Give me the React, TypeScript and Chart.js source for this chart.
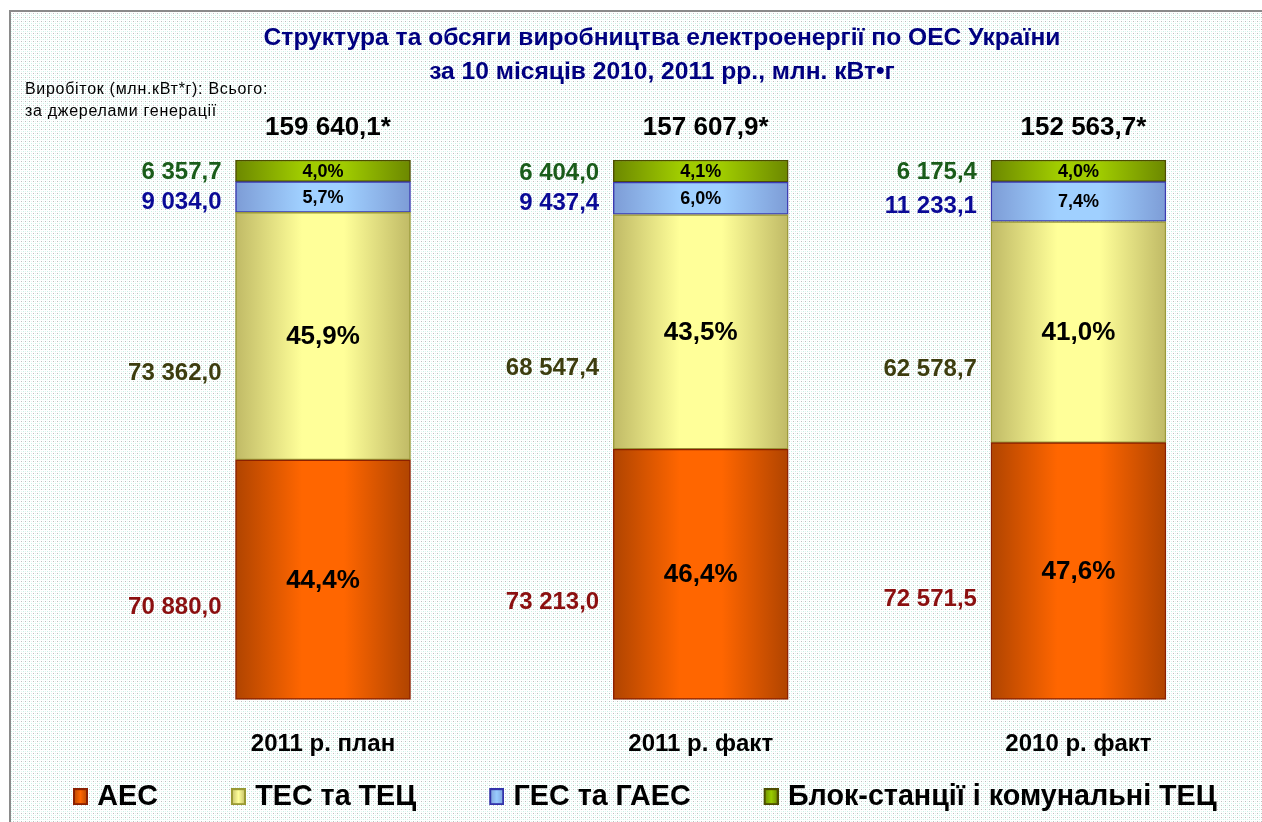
import { useEffect, useRef } from 'react';
import { Chart, registerables } from 'chart.js';

Chart.register(...registerables);

const categories = ['2011 р. план', '2011 р. факт', '2010 р. факт'];
const totalLabels = ['159 640,1*', '157 607,9*', '152 563,7*'];
const seriesNames = ['АЕС', 'ТЕС та ТЕЦ', 'ГЕС та ГАЕС', 'Блок-станції і комунальні ТЕЦ'];

// shares, %
const aesShare = [44.4, 46.4, 47.6];
const tesShare = [45.9, 43.5, 41.0];
const gesShare = [5.7, 6.0, 7.4];
const blockShare = [4.0, 4.1, 4.0];

// output, mln kWh
const aesOutput = [70880.0, 73213.0, 72571.5];
const tesOutput = [73362.0, 68547.4, 62578.7];
const gesOutput = [9034.0, 9437.4, 11233.1];
const blockOutput = [6357.7, 6404.0, 6175.4];

const titleLines = [
  'Структура та обсяги виробництва електроенергії по ОЕС України',
  'за 10 місяців 2010, 2011 рр., млн. кВт•г',
];
const noteLines = ['Виробіток (млн.кВт*г): Всього:', 'за джерелами генерації'];

const shares = [aesShare, tesShare, gesShare, blockShare];
const outputs = [aesOutput, tesOutput, gesOutput, blockOutput];

const FONT = "'Liberation Sans', Arial, sans-serif";
const BAR_W = 175;

const styles = [
  { edge: '#b04400', mid: '#ff6600', border: '#8b2000', text: '#8b1010', pct: 26, off: 28, box: '#ff6600', boxBorder: '#8b2000' },
  { edge: '#c0ba66', mid: '#ffff99', border: '#9a9a3a', text: '#3d3d0f', pct: 26, off: 37, box: '#ffff99', boxBorder: '#999933' },
  { edge: '#7d9cd6', mid: '#a0d0ff', border: '#3a3ab0', text: '#0a0a96', pct: 18, off: 5, box: '#99ccff', boxBorder: '#3333aa' },
  { edge: '#6c8800', mid: '#a0cc00', border: '#4d4d00', text: '#1a5c1a', pct: 18, off: 2, box: '#99cc00', boxBorder: '#4d4d00' },
];

function fmtValue(v: number): string {
  const [i, d] = v.toFixed(1).split('.');
  return i.replace(/\B(?=(\d{3})+(?!\d))/g, ' ') + ',' + d;
}
function fmtPct(v: number): string {
  return v.toFixed(1).replace('.', ',') + '%';
}

function gradientFor(ctx: any, d: number) {
  const st = styles[d];
  const chart = ctx.chart;
  const xs = chart.scales && chart.scales.x;
  if (ctx.type !== 'data' || !xs || !chart.chartArea) return st.mid;
  const raw = ctx.raw;
  const cx = xs.getPixelForValue(raw ? raw.x : ctx.dataIndex);
  const g = chart.ctx.createLinearGradient(cx - BAR_W / 2, 0, cx + BAR_W / 2, 0);
  g.addColorStop(0, st.edge);
  g.addColorStop(0.38, st.mid);
  g.addColorStop(0.62, st.mid);
  g.addColorStop(1, st.edge);
  return g;
}

function makeLegendIcon(d: number): HTMLCanvasElement {
  const c = document.createElement('canvas');
  c.width = 82;
  c.height = 17;
  const g = c.getContext('2d')!;
  const st = styles[d];
  const grad = g.createLinearGradient(67, 0, 82, 0);
  grad.addColorStop(0, st.edge);
  grad.addColorStop(0.5, st.box);
  grad.addColorStop(1, st.edge);
  g.fillStyle = grad;
  g.fillRect(67, 0, 15, 17);
  g.strokeStyle = st.boxBorder;
  g.lineWidth = 2;
  g.strokeRect(68, 1, 13, 15);
  return c;
}

function makePattern(ctx: CanvasRenderingContext2D) {
  const c = document.createElement('canvas');
  c.width = 4;
  c.height = 4;
  const g = c.getContext('2d')!;
  g.fillStyle = '#ffffff';
  g.fillRect(0, 0, 4, 4);
  g.fillStyle = '#bfbfbf';
  g.fillRect(1, 1, 1, 1);
  g.fillStyle = '#c8f2e6';
  g.fillRect(3, 3, 1, 1);
  g.fillStyle = '#e2f8f1';
  g.fillRect(3, 1, 1, 1);
  g.fillRect(1, 3, 1, 1);
  return ctx.createPattern(c, 'repeat');
}

const backgroundPlugin = {
  id: 'bgPattern',
  beforeDraw(chart: any) {
    const c = chart.ctx as CanvasRenderingContext2D;
    const w = chart.width;
    const h = chart.height;
    c.save();
    c.fillStyle = '#ffffff';
    c.fillRect(0, 0, w, h);
    const p = makePattern(c);
    if (p) {
      c.fillStyle = p;
      c.fillRect(10, 11, w, h);
    }
    c.strokeStyle = '#8a8a8a';
    c.lineWidth = 2;
    c.beginPath();
    c.moveTo(10, h);
    c.lineTo(10, 11);
    c.lineTo(w, 11);
    c.stroke();
    c.restore();
  },
};

const labelsPlugin = {
  id: 'barLabels',
  afterDatasetsDraw(chart: any) {
    const c = chart.ctx as CanvasRenderingContext2D;
    c.save();
    c.textBaseline = 'middle';
    shares.forEach((_, d) => {
      const meta = chart.getDatasetMeta(d);
      const st = styles[d];
      meta.data.forEach((bar: any, i: number) => {
        const { x, y, base, width } = bar.getProps(['x', 'y', 'base', 'width'], true);
        const cy = (y + base) / 2;
        c.fillStyle = '#000000';
        c.textAlign = 'center';
        c.font = `bold ${st.pct}px ${FONT}`;
        c.fillText(fmtPct(shares[d][i]), x, cy + 1);
        c.fillStyle = st.text;
        c.textAlign = 'right';
        c.font = `bold 24px ${FONT}`;
        c.fillText(fmtValue(outputs[d][i]), x - width / 2 - 14, cy + st.off);
      });
    });
    const topMeta = chart.getDatasetMeta(shares.length - 1);
    topMeta.data.forEach((bar: any, i: number) => {
      const { x, y } = bar.getProps(['x', 'y'], true);
      c.fillStyle = '#000000';
      c.textAlign = 'center';
      c.font = `bold 26px ${FONT}`;
      c.fillText(totalLabels[i], x + 5, y - 32);
    });
    c.textAlign = 'left';
    c.fillStyle = '#000000';
    c.font = `16px ${FONT}`;
    (c as any).letterSpacing = '0.7px';
    c.fillText(noteLines[0], 25, 90);
    c.fillText(noteLines[1], 25, 112);
    c.restore();
  },
};

export default function App() {
  const ref = useRef<HTMLCanvasElement | null>(null);

  useEffect(() => {
    if (!ref.current) return;
    const icons = shares.map((_, d) => makeLegendIcon(d));
    const chart = new Chart(ref.current, {
      type: 'bar',
      data: {
        datasets: shares.map((arr, d) => ({
          label: seriesNames[d],
          data: arr.map((v, i) => ({ x: i, y: v })),
          backgroundColor: (ctx: any) => gradientFor(ctx, d),
          borderColor: styles[d].border,
          borderWidth: 1.5,
          borderSkipped: false,
          barThickness: BAR_W,
        })),
      } as any,
      options: {
        responsive: false,
        animation: false,
        events: [],
        layout: { padding: { top: 0, left: 0, right: 0, bottom: 1 } },
        scales: {
          x: {
            type: 'linear',
            stacked: true,
            offset: false,
            min: -0.691,
            max: 2.486,
            grid: { display: false, drawTicks: false, offset: false },
            border: { display: false },
            afterBuildTicks: (s: any) => {
              s.ticks = categories.map((_, i) => ({ value: i }));
            },
            ticks: {
              autoSkip: false,
              maxRotation: 0,
              padding: 9,
              color: '#000000',
              font: { family: FONT, size: 24, weight: 'bold', lineHeight: 1.5 },
              callback: (v: any) => categories[v] ?? '',
            },
          },
          y: {
            stacked: true,
            min: -3.333,
            max: 100,
            grid: { display: false, drawTicks: false },
            border: { display: false },
            ticks: { display: false },
            afterFit: (s: any) => {
              s.width = 62;
            },
          },
        },
        plugins: {
          title: {
            display: true,
            fullSize: false,
            text: titleLines,
            color: '#000080',
            font: { family: FONT, size: 24.6, weight: 'bold', lineHeight: 34 / 24.6 },
            padding: { top: 21, bottom: 71 },
          },
          legend: {
            position: 'bottom',
            align: 'start',
            labels: {
              usePointStyle: true,
              pointStyleWidth: 72,
              padding: 11,
              color: '#000000',
              font: { family: FONT, size: 28.7, weight: 'bold' },
              generateLabels: (ch: any) =>
                (Chart.defaults.plugins.legend.labels.generateLabels as any)(ch).map((l: any) => ({
                  ...l,
                  pointStyle: icons[l.datasetIndex],
                })),
            },
          },
          tooltip: { enabled: false },
        },
      } as any,
      plugins: [backgroundPlugin, labelsPlugin],
    });
    return () => chart.destroy();
  }, []);

  return (
    <div style={{ position: 'absolute', left: 0, top: 0, width: 1262, height: 822 }}>
      <canvas ref={ref} width={1262} height={822} />
    </div>
  );
}
